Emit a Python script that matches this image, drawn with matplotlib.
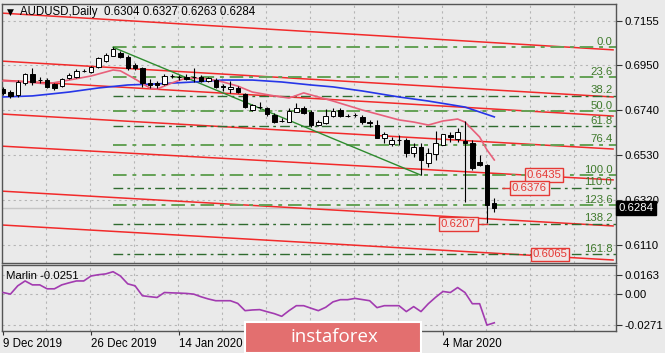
import numpy as np
import matplotlib.pyplot as plt
import matplotlib.transforms as mtransforms
from matplotlib.patches import Rectangle

plt.rcParams['font.family'] = ['Liberation Sans', 'DejaVu Sans']

# ---- data ----
date_ticks = [0, 12, 24, 60]
date_labels = ['9 Dec 2019', '26 Dec 2019', '14 Jan 2020', '4 Mar 2020']

opens = [0.6837, 0.6823, 0.6809, 0.6865, 0.6908, 0.6879, 0.6879, 0.6861, 0.6851, 0.6889,
         0.6894, 0.6920, 0.6917, 0.6940, 0.6968, 0.6992, 0.7006, 0.6987, 0.6950, 0.6936,
         0.6865, 0.6865, 0.6861, 0.6898, 0.6894, 0.6894, 0.6894, 0.6894, 0.6875, 0.6879,
         0.6849, 0.6837, 0.6842, 0.6814, 0.6739, 0.6755, 0.6749, 0.6716, 0.6690, 0.6683,
         0.6730, 0.6749, 0.6730, 0.6669, 0.6679, 0.6711, 0.6739, 0.6713, 0.6716, 0.6707,
         0.6681, 0.6669, 0.6609, 0.6581, 0.6601, 0.6599, 0.6539, 0.6567, 0.6492, 0.6534,
         0.6576, 0.6623, 0.6604, 0.6595, 0.6585, 0.6497, 0.6483, 0.6304]
highs = [0.6847, 0.6833, 0.6879, 0.6912, 0.6936, 0.6894, 0.6889, 0.6865, 0.6889, 0.6912,
         0.6931, 0.6931, 0.6945, 0.6987, 0.7006, 0.7032, 0.7015, 0.6996, 0.6959, 0.6940,
         0.6884, 0.6875, 0.6908, 0.6908, 0.6903, 0.6908, 0.6936, 0.6903, 0.6894, 0.6889,
         0.6861, 0.6875, 0.6851, 0.6819, 0.6768, 0.6777, 0.6753, 0.6725, 0.6702, 0.6749,
         0.6772, 0.6758, 0.6739, 0.6693, 0.6744, 0.6749, 0.6749, 0.6721, 0.6725, 0.6716,
         0.6693, 0.6693, 0.6637, 0.6613, 0.6623, 0.6609, 0.6585, 0.6585, 0.6562, 0.6641,
         0.6627, 0.6637, 0.6655, 0.6688, 0.6599, 0.6529, 0.6487, 0.6327]
lows = [0.6809, 0.6795, 0.6800, 0.6856, 0.6856, 0.6865, 0.6842, 0.6833, 0.6847, 0.6884,
        0.6889, 0.6917, 0.6912, 0.6936, 0.6964, 0.6990, 0.6982, 0.6926, 0.6926, 0.6847,
        0.6842, 0.6842, 0.6856, 0.6889, 0.6879, 0.6879, 0.6870, 0.6870, 0.6870, 0.6842,
        0.6828, 0.6819, 0.6819, 0.6749, 0.6735, 0.6744, 0.6711, 0.6679, 0.6683, 0.6681,
        0.6728, 0.6721, 0.6660, 0.6665, 0.6674, 0.6707, 0.6707, 0.6707, 0.6707, 0.6674,
        0.6660, 0.6609, 0.6585, 0.6571, 0.6576, 0.6520, 0.6520, 0.6435, 0.6473, 0.6506,
        0.6576, 0.6590, 0.6590, 0.6310, 0.6459, 0.6478, 0.6212, 0.6263]
closes = [0.6819, 0.6805, 0.6870, 0.6908, 0.6870, 0.6877, 0.6847, 0.6842, 0.6884, 0.6903,
          0.6922, 0.6922, 0.6940, 0.6982, 0.6996, 0.7024, 0.6987, 0.6936, 0.6936, 0.6865,
          0.6856, 0.6856, 0.6898, 0.6896, 0.6892, 0.6884, 0.6892, 0.6875, 0.6889, 0.6847,
          0.6845, 0.6847, 0.6823, 0.6753, 0.6763, 0.6751, 0.6721, 0.6683, 0.6686, 0.6735,
          0.6749, 0.6725, 0.6669, 0.6683, 0.6711, 0.6735, 0.6711, 0.6711, 0.6714, 0.6683,
          0.6677, 0.6609, 0.6627, 0.6599, 0.6597, 0.6539, 0.6567, 0.6506, 0.6539, 0.6585,
          0.6627, 0.6613, 0.6637, 0.6585, 0.6469, 0.6483, 0.6296, 0.6284]

fast_ma_bars = [0, 3, 6, 9, 12, 15, 16, 18, 20, 21, 23, 25, 28, 30, 32, 34, 37, 39, 41, 43,
                45, 49, 54, 56, 58, 60, 62, 63, 65, 66, 67]
fast_ma = [0.6875, 0.6870, 0.6861, 0.6879, 0.6898, 0.6926, 0.6922, 0.6884, 0.6842, 0.6837,
           0.6865, 0.6889, 0.6884, 0.6870, 0.6851, 0.6823, 0.6805, 0.6795, 0.6819, 0.6800,
           0.6781, 0.6739, 0.6693, 0.6683, 0.6669, 0.6688, 0.6697, 0.6683, 0.6613, 0.6553, 0.6506]

slow_ma_bars = [0, 4, 9, 13, 17, 21, 26, 30, 34, 38, 42, 45, 49, 54, 58, 63, 65, 67]
slow_ma = [0.6800, 0.6805, 0.6823, 0.6842, 0.6856, 0.6861, 0.6870, 0.6879, 0.6879, 0.6870,
           0.6856, 0.6847, 0.6828, 0.6800, 0.6781, 0.6753, 0.6730, 0.6707]

marlin = [0.0011, -0.0003, 0.0069, 0.0111, 0.0077, 0.0077, 0.0043, 0.0043, 0.0077, 0.0095,
          0.0111, 0.0111, 0.0154, 0.0165, 0.0172, 0.0191, 0.0154, 0.0086, 0.0069, -0.0017,
          -0.0025, -0.0032, 0.0011, 0.0008, 0.0006, 0.0003, -0.0003, -0.0026, -0.0045, -0.0060,
          -0.0060, -0.0060, -0.0083, -0.0146, -0.0140, -0.0137, -0.0155, -0.0172, -0.0195, -0.0146,
          -0.0103, -0.0103, -0.0125, -0.0146, -0.0117, -0.0070, -0.0051, -0.0051, -0.0040, -0.0050,
          -0.0060, -0.0120, -0.0103, -0.0103, -0.0103, -0.0154, -0.0111, -0.0154, -0.0086, -0.0030,
          0.0020, 0.0011, 0.0054, 0.0011, -0.0086, -0.0086, -0.0271, -0.0251]

# red channel lines: price at the left edge and at the right edge
chan_start = [0.7192, 0.6968, 0.6879, 0.6721, 0.6571, 0.6361, 0.6203]
chan_end = [0.7020, 0.6800, 0.6711, 0.6557, 0.6413, 0.6198, 0.6039]

fib_high = 0.7032
fib_low = 0.6435
fib_high_bar = 15
fib_low_bar = 57
fib_ratios = [0.0, 23.6, 38.2, 50.0, 61.8, 76.4, 100.0, 110.0, 123.6, 138.2, 161.8]
fib_dark = [False, False, True, False, True, False, False, True, False, True, True]

mark_values = [0.6435, 0.6376, 0.6207, 0.6065]
mark_bars = [73.8, 71.8, 62.1, 74.6]

price_ticks = [0.7155, 0.6950, 0.6740, 0.6530, 0.6320, 0.6110]
marlin_ticks = [0.0163, 0.0, -0.0271]
marlin_tick_labels = ['0.0163', '0.00', '-0.0271']

# ---- layout ----
BG = '#eaeaea'
W, H = 665, 353


def box(x0, y0, x1, y1):
    return [x0 / W, 1 - y1 / H, (x1 - x0) / W, (y1 - y0) / H]


fig = plt.figure(figsize=(6.65, 3.53), dpi=100, facecolor=BG)
ax = fig.add_axes(box(2, 4, 616, 263), facecolor=BG)
ax2 = fig.add_axes(box(2, 265, 616, 331), facecolor=BG)

o = np.array(opens)
h = np.array(highs)
l = np.array(lows)
c = np.array(closes)
bars = np.arange(len(o))
xmin, xmax = -0.15, 83.6

grid_style = dict(ls=(0, (2, 3)), color='#b5b5b5', lw=0.8, zorder=0)
for a in (ax, ax2):
    a.set_xlim(xmin, xmax)
    for gx in range(6, 83, 6):
        a.axvline(gx - 0.1, **grid_style)
    for s in a.spines.values():
        s.set_color('#555555')
        s.set_linewidth(1)
    a.yaxis.tick_right()
    a.tick_params(axis='y', length=4, width=0.8, color='#333333', labelsize=8.2, pad=2)

ax.set_xticks([])
ax.set_ylim(0.6025, 0.7234)
ax.set_yticks(price_ticks)
ax.set_yticklabels(['%.4f' % p for p in price_ticks])
for p in price_ticks:
    ax.axhline(p, **grid_style)

# channel lines
for s, e in zip(chan_start, chan_end):
    ax.plot([xmin - 0.3, 83.2], [s, e], color='#f22a2a', lw=1.1, zorder=2)

# fibonacci levels
for r, dark in zip(fib_ratios, fib_dark):
    lvl = fib_high - r / 100 * (fib_high - fib_low)
    col = '#2f6b2f' if dark else '#64a255'
    ax.hlines(lvl, fib_high_bar, xmax, colors=col, lw=1.0 if dark else 1.4,
              linestyles=[(0, (7, 3, 2, 3))], zorder=2)
    ax.text(83.1, lvl + 0.0003, '%.1f' % r, ha='right', va='bottom',
            color='#3f7a2c', fontsize=8.2, zorder=3)
ax.plot([fib_high_bar, fib_low_bar], [fib_high, fib_low], color='#2e8b2e', lw=1.0, zorder=2)

# moving averages
ax.plot(slow_ma_bars, slow_ma, color='#2636e8', lw=1.2, zorder=3)
ax.plot(fast_ma_bars, fast_ma, color='#e8607a', lw=1.2, zorder=3)

# current price line
ax.axhline(closes[-1], color='#c6c6c6', lw=1.0, zorder=1)

# candles
up = c >= o
ax.vlines(bars, l, h, color='black', lw=0.8, zorder=4)
ax.bar(bars, np.maximum(np.abs(c - o), 0.00008), bottom=np.minimum(o, c), width=0.6,
       color=np.where(up, 'white', 'black'), edgecolor='black', lw=0.7, zorder=5)

# level labels
red = '#e53935'
ax.hlines(mark_values[1], 68.1, 69.9, colors=red, lw=1.0, zorder=4)
ax.hlines(mark_values[2], 64.6, 66.2, colors=red, lw=1.0, zorder=4)
for v, b in zip(mark_values, mark_bars):
    ax.text(b, v, '%.4f' % v, ha='center', va='center', color=red, fontsize=8.2, zorder=6,
            bbox=dict(boxstyle='square,pad=0.15', fc='#efe6e6', ec=red, lw=1.0))

# current price box on the axis
trans = mtransforms.blended_transform_factory(ax.transAxes, ax.transData)
ax.text(1.004, closes[-1] - 0.0002, '%.4f' % closes[-1], transform=trans, ha='left',
        va='center', color='white', fontsize=8.2, zorder=10, clip_on=False,
        bbox=dict(boxstyle='square,pad=0.18', fc='black', ec='black'))

# title
fig.text(7 / W, 1 - 12 / H, '\u25bc', fontsize=6.5, va='center', ha='left', color='black',
         family=['DejaVu Sans'])
fig.text(20 / W, 1 - 12 / H, 'AUDUSD,Daily  0.6304 0.6327 0.6263 0.6284', fontsize=8.3,
         va='center', ha='left', color='black')

# indicator panel
ax2.set_ylim(-0.0322, 0.0249)
ax2.set_yticks(marlin_ticks)
ax2.set_yticklabels(marlin_tick_labels)
for m in marlin_ticks:
    ax2.axhline(m, **grid_style)
ax2.plot(bars, marlin, color='#a23bb0', lw=1.2, zorder=3)
ax2.text(0.0065, 0.83, 'Marlin -0.0251', transform=ax2.transAxes, fontsize=8.2,
         va='center', ha='left', color='black')
ax2.set_xticks(date_ticks)
ax2.set_xticklabels(date_labels, ha='left', fontsize=8.3)
ax2.tick_params(axis='x', length=3, color='#333333', pad=2)

# logo
fig.patches.append(Rectangle((245 / W, 0), 176 / W, 31 / H, transform=fig.transFigure,
                             fc='#e36f6f', ec='white', lw=1.5, zorder=20))
fig.text(334 / W, 1 - 337 / H, 'instaforex', fontsize=13.5, color='white', ha='center',
         va='center', family=['Open Sans', 'DejaVu Sans'], zorder=21)

fig.savefig('out.png', dpi=100, facecolor=BG)
